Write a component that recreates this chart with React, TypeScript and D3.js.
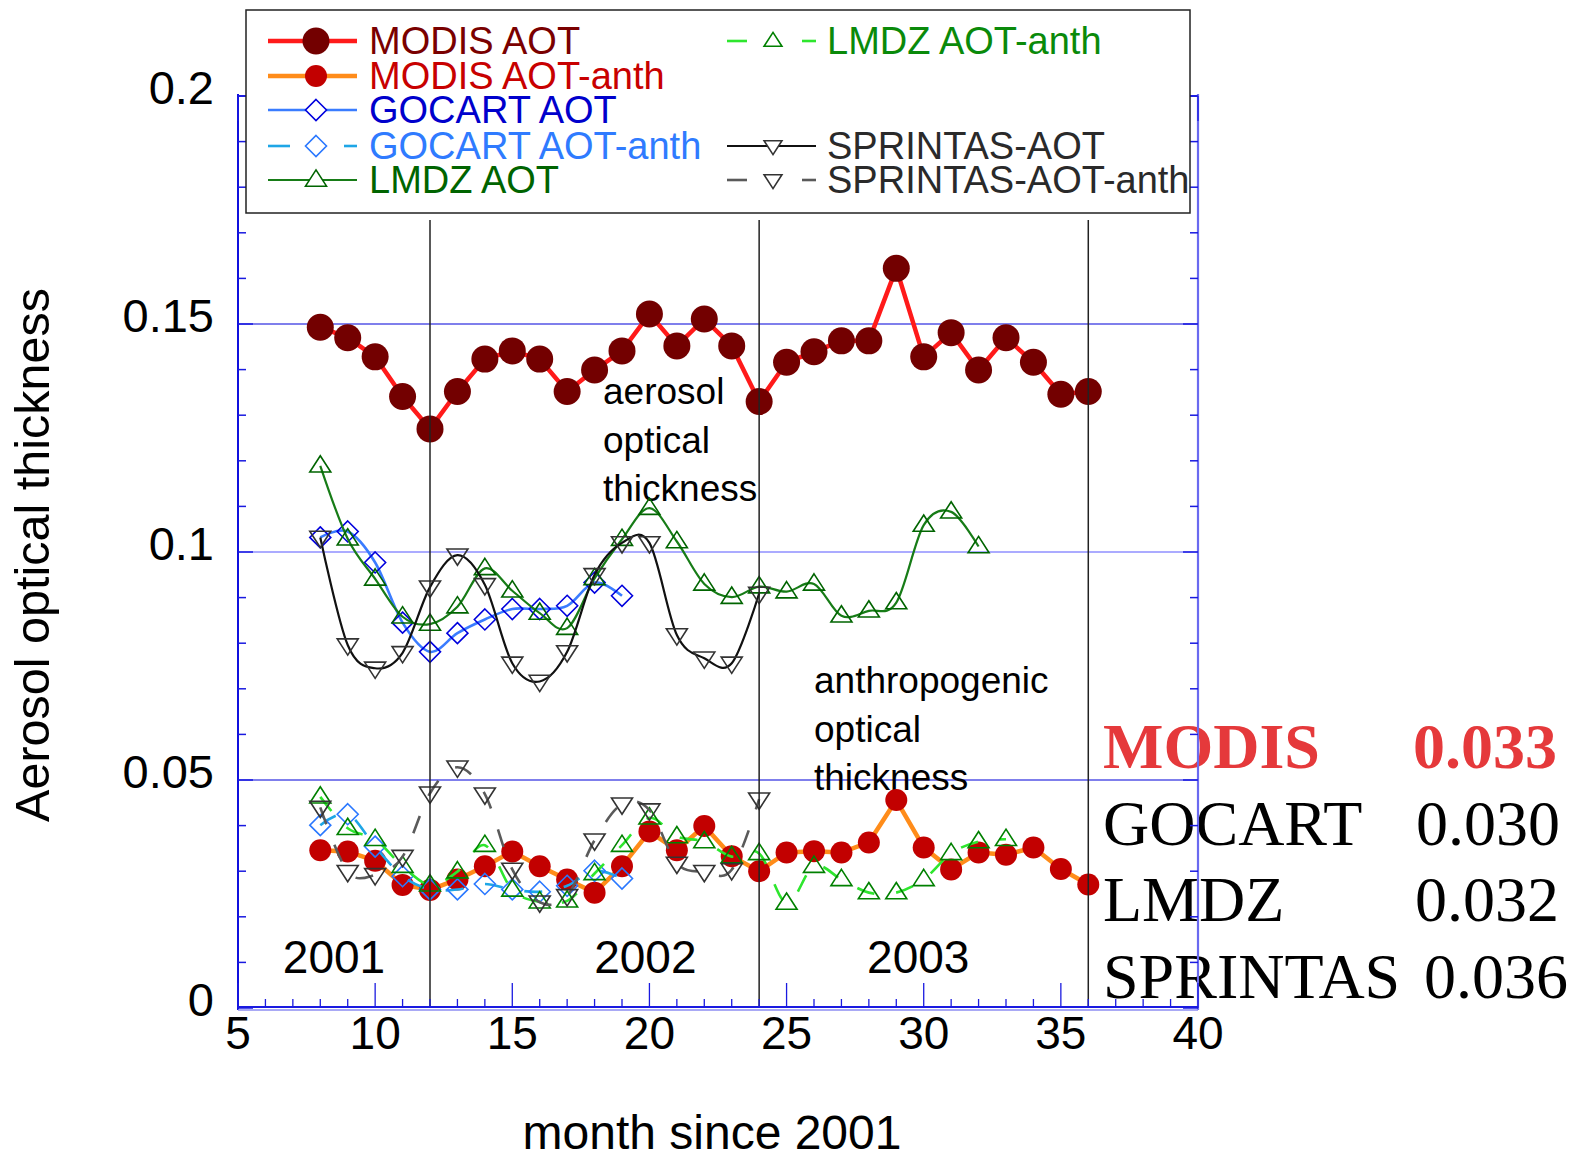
import React from "react";
import * as d3 from "d3";

// ---- data: monthly aerosol optical thickness (month 1 = Jan 2001) ----
const modisMonths = [8, 9, 10, 11, 12, 13, 14, 15, 16, 17, 18, 19, 20, 21, 22, 23, 24, 25, 26, 27, 28, 29, 30, 31, 32, 33, 34, 35, 36];
const modisAot = [0.1493, 0.147, 0.1428, 0.1341, 0.127, 0.1352, 0.1423, 0.1441, 0.1423, 0.1352, 0.1399, 0.1441, 0.1522, 0.1452, 0.1511, 0.1452, 0.133, 0.1416, 0.1439, 0.1463, 0.1463, 0.1622, 0.1428, 0.1481, 0.1399, 0.147, 0.1416, 0.1346, 0.1352];
const modisAnth = [0.0346, 0.0343, 0.0323, 0.027, 0.0259, 0.0282, 0.0311, 0.0343, 0.0311, 0.0282, 0.0253, 0.0311, 0.0387, 0.0346, 0.0399, 0.0333, 0.03, 0.0341, 0.0344, 0.0341, 0.0363, 0.0456, 0.0352, 0.0304, 0.0341, 0.0336, 0.0352, 0.0305, 0.0271];

const gocartMonths = [8, 9, 10, 11, 12, 13, 14, 15, 16, 17, 18, 19];
const gocartAot = [0.1032, 0.1045, 0.0977, 0.0845, 0.0781, 0.0822, 0.0852, 0.0875, 0.0875, 0.0882, 0.0933, 0.0904];
const gocartAnth = [0.0401, 0.0425, 0.0354, 0.0289, 0.026, 0.026, 0.0272, 0.026, 0.0255, 0.0268, 0.0301, 0.0284];

const lmdzMonths = [8, 9, 10, 11, 12, 13, 14, 15, 16, 17, 18, 19, 20, 21, 22, 23, 24, 25, 26, 27, 28, 29, 30, 31, 32];
const lmdzAot = [0.1189, 0.1029, 0.0941, 0.0858, 0.0842, 0.088, 0.0964, 0.0915, 0.0866, 0.0833, 0.0942, 0.1028, 0.1096, 0.1023, 0.093, 0.0901, 0.0924, 0.0913, 0.093, 0.086, 0.0871, 0.0889, 0.1059, 0.1088, 0.1012];
const lmdzAnthMonths = [8, 9, 10, 11, 12, 13, 14, 15, 16, 17, 18, 19, 20, 21, 22, 23, 24, 25, 26, 27, 28, 29, 30, 31, 32, 33];
const lmdzAnth = [0.0463, 0.0394, 0.037, 0.0311, 0.027, 0.0299, 0.0357, 0.0259, 0.0233, 0.0235, 0.0295, 0.0357, 0.0417, 0.0376, 0.0365, 0.0332, 0.0339, 0.023, 0.0311, 0.0282, 0.0253, 0.0253, 0.0282, 0.0339, 0.0365, 0.037];

const sprintasMonths = [8, 9, 10, 11, 12, 13, 14, 15, 16, 17, 18, 19, 20, 21, 22, 23, 24];
const sprintasAot = [0.1032, 0.0796, 0.0745, 0.0779, 0.0923, 0.0993, 0.0928, 0.0756, 0.0716, 0.0781, 0.095, 0.102, 0.102, 0.0818, 0.0767, 0.0756, 0.0909];
const sprintasAnth = [0.044, 0.0299, 0.0292, 0.0332, 0.0471, 0.0528, 0.0469, 0.0304, 0.0232, 0.0246, 0.0368, 0.0447, 0.0434, 0.0317, 0.0299, 0.0303, 0.0458];

// mean anthropogenic AOT per data set
const meanNames = ["MODIS", "GOCART", "LMDZ", "SPRINTAS"];
const meanValues = ["0.033", "0.030", "0.032", "0.036"];

const yTickValues = [0, 0.05, 0.1, 0.15, 0.2];
const yTickLabels = ["0", "0.05", "0.1", "0.15", "0.2"];
const xTickValues = [5, 10, 15, 20, 25, 30, 35, 40];
const yearLabels = ["2001", "2002", "2003"];
const yearCenters = [8.5, 19.85, 29.8];
const yearBoundaries = [12, 24, 36];

type Mk = "circle" | "diamond" | "up" | "down";

interface Style {
  name: string;
  months: number[];
  values: number[];
  line: string;
  lw: number;
  dash?: string;
  smooth: boolean;
  marker: Mk;
  mColor: string;
  size: number;
  text: string;
}

const sAnthModis: Style = { name: "MODIS AOT-anth", months: modisMonths, values: modisAnth, line: "#ff8c1a", lw: 4.5, smooth: false, marker: "circle", mColor: "#c20000", size: 11, text: "#c80000" };
const sAnthGocart: Style = { name: "GOCART AOT-anth", months: gocartMonths, values: gocartAnth, line: "#1ea6e6", lw: 2.6, dash: "18 22", smooth: true, marker: "diamond", mColor: "#2a78ff", size: 10.5, text: "#2f7bff" };
const sAnthLmdz: Style = { name: "LMDZ AOT-anth", months: lmdzAnthMonths, values: lmdzAnth, line: "#2ee62e", lw: 2.6, dash: "18 22", smooth: true, marker: "up", mColor: "#008000", size: 10.5, text: "#0a8a0a" };
const sAnthSpr: Style = { name: "SPRINTAS-AOT-anth", months: sprintasMonths, values: sprintasAnth, line: "#5a5a5a", lw: 2.6, dash: "18 22", smooth: true, marker: "down", mColor: "#333", size: 10.5, text: "#2a2a2a" };
const sGocart: Style = { name: "GOCART AOT", months: gocartMonths, values: gocartAot, line: "#3a7cff", lw: 2.6, smooth: true, marker: "diamond", mColor: "#0000dd", size: 10.5, text: "#0000cc" };
const sLmdz: Style = { name: "LMDZ AOT", months: lmdzMonths, values: lmdzAot, line: "#177c17", lw: 2.2, smooth: true, marker: "up", mColor: "#006400", size: 10.5, text: "#006400" };
const sSpr: Style = { name: "SPRINTAS-AOT", months: sprintasMonths, values: sprintasAot, line: "#111", lw: 2.2, smooth: true, marker: "down", mColor: "#333", size: 10.5, text: "#2a2a2a" };
const sModis: Style = { name: "MODIS AOT", months: modisMonths, values: modisAot, line: "#ff1a1a", lw: 4.5, smooth: false, marker: "circle", mColor: "#730000", size: 13.5, text: "#7a0000" };

const drawOrder = [sAnthModis, sAnthGocart, sAnthLmdz, sAnthSpr, sGocart, sLmdz, sSpr, sModis];
const legendLeft = [sModis, sAnthModis, sGocart, sAnthGocart, sLmdz];
const legendRight: (Style | null)[] = [sAnthLmdz, null, null, sSpr, sAnthSpr];

function Marker({ kind, cx, cy, s, color, fill }: { kind: Mk; cx: number; cy: number; s: number; color: string; fill: string }) {
  if (kind === "circle") return <circle cx={cx} cy={cy} r={s} fill={color} />;
  let d = "";
  if (kind === "diamond") d = `M${cx},${cy - s}L${cx + s},${cy}L${cx},${cy + s}L${cx - s},${cy}Z`;
  const h = s * 1.55;
  if (kind === "up") d = `M${cx},${cy - h * 0.62}L${cx + s},${cy + h * 0.38}L${cx - s},${cy + h * 0.38}Z`;
  if (kind === "down") d = `M${cx},${cy + h * 0.62}L${cx + s},${cy - h * 0.38}L${cx - s},${cy - h * 0.38}Z`;
  return <path d={d} fill={fill} stroke={color} strokeWidth={1.6} strokeLinejoin="miter" />;
}

export default function App() {
  const W = 1573;
  const H = 1160;
  const x = d3.scaleLinear().domain([5, 40]).range([238, 1198]);
  const y = d3.scaleLinear().domain([0, 0.2]).range([1008, 96]);
  const sans = "'Liberation Sans', Arial, sans-serif";
  const serif = "'Liberation Serif', 'Times New Roman', serif";

  const minorY = d3.range(0, 0.2001, 0.01);
  const minorX = d3.range(5, 40.001, 1);

  const rowY = [41, 76, 110, 146, 180];

  return (
    <svg width={W} height={H} style={{ position: "absolute", left: 0, top: 0, background: "#fff" }} fontFamily={sans}>
      <rect width={W} height={H} fill="#fff" />

      {/* mean values table */}
      {meanNames.map((n, i) => (
        <text key={n} x={1103} y={768 + i * 76.7} fontFamily={serif} fontSize={64} fontWeight={i === 0 ? "bold" : "normal"} fill={i === 0 ? "#e5393b" : "#000"}>
          {n}
        </text>
      ))}
      {meanValues.map((v, i) => (
        <text key={v + i} x={[1413, 1416, 1415, 1424][i]} y={768 + i * 76.7} fontFamily={serif} fontSize={64} fontWeight={i === 0 ? "bold" : "normal"} fill={i === 0 ? "#e5393b" : "#000"}>
          {v}
        </text>
      ))}

      {/* horizontal grid lines */}
      {[0.05, 0.1, 0.15].map((v) => (
        <line key={v} x1={x(5)} x2={x(40)} y1={y(v)} y2={y(v)} stroke={v === 0.1 ? "#8f8fff" : "#5454e6"} strokeWidth={1.3} />
      ))}

      {/* annotations */}
      {["aerosol", "optical", "thickness"].map((t, i) => (
        <text key={t} x={603} y={404 + i * 48.5} fontSize={37} fill="#000">
          {t}
        </text>
      ))}
      {["anthropogenic", "optical", "thickness"].map((t, i) => (
        <text key={t + "a"} x={814} y={693 + i * 48.5} fontSize={37} fill="#000">
          {t}
        </text>
      ))}
      {yearLabels.map((t, i) => (
        <text key={t} x={x(yearCenters[i])} y={973} fontSize={46} textAnchor="middle" fill="#000">
          {t}
        </text>
      ))}

      {/* data series */}
      {drawOrder.map((s) => {
        const gen = d3
          .line<number>()
          .x((_, i) => x(s.months[i]))
          .y((v) => y(v))
          .curve(s.smooth ? d3.curveCardinal.tension(0) : d3.curveLinear);
        return (
          <g key={s.name}>
            <path d={gen(s.values) || ""} fill="none" stroke={s.line} strokeWidth={s.lw} strokeDasharray={s.dash} strokeLinejoin="round" />
            {s.values.map((v, i) => (
              <Marker key={i} kind={s.marker} cx={x(s.months[i])} cy={y(v)} s={s.size} color={s.mColor} fill="none" />
            ))}
          </g>
        );
      })}

      {/* year boundaries */}
      {yearBoundaries.map((m) => (
        <line key={m} x1={x(m)} x2={x(m)} y1={220} y2={y(0)} stroke="#222" strokeWidth={1.5} />
      ))}

      {/* axes frame */}
      <line x1={x(5)} x2={x(40)} y1={y(0.2)} y2={y(0.2)} stroke="#2a2ae0" strokeWidth={2} />
      <line x1={x(40)} x2={x(40)} y1={y(0.2) - 2} y2={y(0) + 2} stroke="#6a6af0" strokeWidth={2.2} />
      <line x1={x(5)} x2={x(5)} y1={y(0.2) - 2} y2={y(0) + 2} stroke="#1010dd" strokeWidth={2} />
      <line x1={x(5)} x2={x(40)} y1={y(0) - 1} y2={y(0) - 1} stroke="#1a1ae0" strokeWidth={2} />
      <line x1={x(5)} x2={x(40)} y1={y(0) + 2} y2={y(0) + 2} stroke="#8c8cf2" strokeWidth={1.5} />
      {minorY.map((v, i) => {
        const major = i % 5 === 0;
        const L = major ? 15 : 8;
        return (
          <g key={"yt" + i}>
            <line x1={x(5)} x2={x(5) + L} y1={y(v)} y2={y(v)} stroke="#1a1ae0" strokeWidth={1.5} />
            <line x1={x(40)} x2={x(40) - L} y1={y(v)} y2={y(v)} stroke="#1a1ae0" strokeWidth={1.5} />
          </g>
        );
      })}
      {minorX.map((m, i) => {
        const major = i % 5 === 0;
        const L = major ? 25 : 9;
        return (
          <g key={"xt" + i}>
            <line x1={x(m)} x2={x(m)} y1={y(0)} y2={y(0) - L} stroke="#1a1ae0" strokeWidth={1.3} />
            <line x1={x(m)} x2={x(m)} y1={y(0.2)} y2={y(0.2) + L} stroke="#1a1ae0" strokeWidth={1.3} />
          </g>
        );
      })}

      {/* tick labels */}
      {yTickValues.map((v, i) => (
        <text key={"yl" + v} x={214} y={y(v) + 8} fontSize={47} textAnchor="end" fill="#000">
          {yTickLabels[i]}
        </text>
      ))}
      {xTickValues.map((m) => (
        <text key={"xl" + m} x={x(m)} y={1049} fontSize={46} textAnchor="middle" fill="#000">
          {m}
        </text>
      ))}

      {/* axis titles */}
      <text transform="translate(49,555) rotate(-90)" fontSize={48.5} textAnchor="middle" fill="#000">
        Aerosol optical thickness
      </text>
      <text x={712} y={1149} fontSize={48} textAnchor="middle" fill="#000">
        month since 2001
      </text>

      {/* legend */}
      <rect x={246} y={10} width={944} height={203} fill="#fff" stroke="#222" strokeWidth={1.5} />
      {legendLeft.map((s, i) => (
        <g key={"ll" + s.name}>
          {s.dash ? (
            <>
              <line x1={268} x2={290} y1={rowY[i]} y2={rowY[i]} stroke={s.line} strokeWidth={s.lw} />
              <line x1={344} x2={357} y1={rowY[i]} y2={rowY[i]} stroke={s.line} strokeWidth={s.lw} />
            </>
          ) : (
            <line x1={268} x2={357} y1={rowY[i]} y2={rowY[i]} stroke={s.line} strokeWidth={s.lw} />
          )}
          <Marker kind={s.marker} cx={316} cy={rowY[i]} s={s.size} color={s.mColor} fill="#fff" />
          <text x={369} y={rowY[i] + 13} fontSize={38} fill={s.text}>
            {s.name}
          </text>
        </g>
      ))}
      {legendRight.map((s, i) =>
        s ? (
          <g key={"lr" + s.name}>
            {s.dash ? (
              <>
                <line x1={727} x2={747} y1={rowY[i]} y2={rowY[i]} stroke={s.line} strokeWidth={s.lw} />
                <line x1={802} x2={816} y1={rowY[i]} y2={rowY[i]} stroke={s.line} strokeWidth={s.lw} />
              </>
            ) : (
              <line x1={727} x2={816} y1={rowY[i]} y2={rowY[i]} stroke={s.line} strokeWidth={s.lw} />
            )}
            <Marker kind={s.marker} cx={773} cy={rowY[i]} s={s.size * 0.85} color={s.mColor} fill="#fff" />
            <text x={827} y={rowY[i] + 13} fontSize={38} fill={s.text}>
              {s.name}
            </text>
          </g>
        ) : null
      )}
    </svg>
  );
}
